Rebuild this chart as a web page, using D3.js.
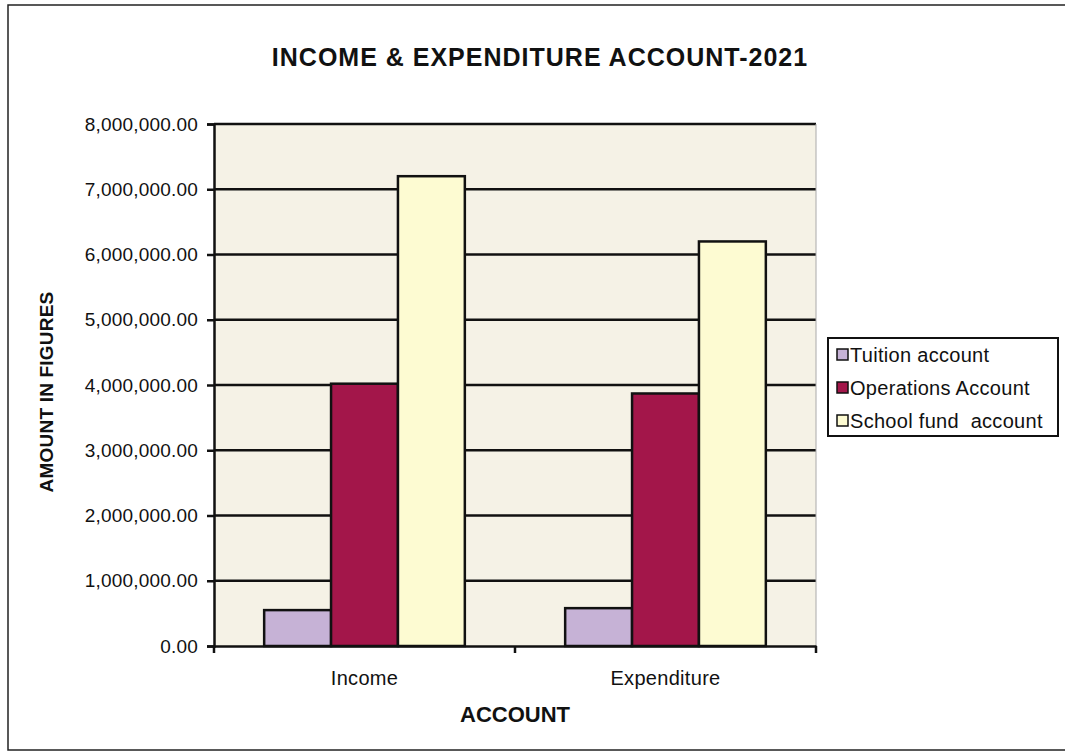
<!DOCTYPE html>
<html>
<head>
<meta charset="utf-8">
<title>Income & Expenditure</title>
<script src="https://cdn.jsdelivr.net/npm/d3@7"></script>
<style>
  body { margin: 0; background: #fff; }
  text { font-family: "Liberation Sans", Arial, sans-serif; fill: #111; }
</style>
</head>
<body>
<script>
var categories = ["Income", "Expenditure"];
var seriesNames = ["Tuition account", "Operations Account", "School fund  account"];
var tuition = [550000, 580000];
var operations = [4020000, 3870000];
var schoolFund = [7200000, 6200000];
var yTicks = [0, 1000000, 2000000, 3000000, 4000000, 5000000, 6000000, 7000000, 8000000];
var colors = ["#c6b2d6", "#a3164a", "#fdfbd2"];

var width = 1065, height = 755;
var plot = {left: 214, right: 816, top: 124, bottom: 646};

var svg = d3.select("body").append("svg")
  .attr("width", width).attr("height", height);

// outer frame
svg.append("rect").attr("x", 8).attr("y", 5).attr("width", 1070).attr("height", 745)
  .attr("fill", "#fff").attr("stroke", "#222").attr("stroke-width", 1.5);

var series = [tuition, operations, schoolFund];

var x0 = d3.scaleBand().domain(categories).range([plot.left, plot.right]);
var x1 = d3.scaleBand().domain(d3.range(seriesNames.length)).range([0, x0.bandwidth()]).paddingOuter(0.75);
var y = d3.scaleLinear().domain([0, 8000000]).range([plot.bottom, plot.top]);

// plot background
svg.append("rect").attr("x", plot.left).attr("y", plot.top)
  .attr("width", plot.right - plot.left).attr("height", plot.bottom - plot.top)
  .attr("fill", "#f5f2e6");

// grid
svg.append("g").selectAll("line").data(yTicks.slice(1)).join("line")
  .attr("x1", plot.left).attr("x2", plot.right)
  .attr("y1", function(d) { return y(d); }).attr("y2", function(d) { return y(d); })
  .attr("stroke", "#111").attr("stroke-width", 2.5);

svg.append("line").attr("x1", plot.right).attr("x2", plot.right)
  .attr("y1", plot.top).attr("y2", plot.bottom).attr("stroke", "#aaa").attr("stroke-width", 1);

// bars
var groups = svg.append("g").selectAll("g").data(categories).join("g")
  .attr("transform", function(d) { return "translate(" + x0(d) + ",0)"; });
groups.selectAll("rect").data(function(d, i) {
    return series.map(function(s, k) { return {k: k, v: s[i]}; });
  }).join("rect")
  .attr("x", function(d) { return x1(d.k); })
  .attr("width", x1.bandwidth())
  .attr("y", function(d) { return y(d.v); })
  .attr("height", function(d) { return plot.bottom - y(d.v); })
  .attr("fill", function(d) { return colors[d.k]; })
  .attr("stroke", "#111").attr("stroke-width", 2.5);

// axes
var fmt = d3.format(",.2f");
var yAxis = svg.append("g").attr("transform", "translate(" + plot.left + ",0)")
  .call(d3.axisLeft(y).tickValues(yTicks).tickFormat(fmt).tickSize(7).tickPadding(9));
yAxis.selectAll("text").style("font-size", "19px").attr("letter-spacing", "0.2");

var xAxis = svg.append("g").attr("transform", "translate(0," + plot.bottom + ")")
  .call(d3.axisBottom(x0).tickSize(0).tickPadding(25));
xAxis.selectAll("text").style("font-size", "20px").attr("letter-spacing", "0.3");
svg.append("g").selectAll("line").data([plot.left, x0(categories[1]), plot.right]).join("line")
  .attr("x1", function(d) { return d; }).attr("x2", function(d) { return d; })
  .attr("y1", plot.bottom).attr("y2", plot.bottom + 7).attr("stroke", "#111").attr("stroke-width", 2.5);
svg.selectAll(".domain").attr("stroke", "#111").attr("stroke-width", 2.5);
svg.selectAll(".tick line").attr("stroke", "#111").attr("stroke-width", 2.5);

// titles
svg.append("text").attr("x", 540).attr("y", 66).attr("text-anchor", "middle")
  .style("font-size", "25px").style("font-weight", "bold").attr("letter-spacing", "1")
  .text("INCOME & EXPENDITURE ACCOUNT-2021");
svg.append("text").attr("x", 515).attr("y", 722).attr("text-anchor", "middle")
  .style("font-size", "22px").style("font-weight", "bold")
  .text("ACCOUNT");
svg.append("text").attr("transform", "translate(53,392) rotate(-90)").attr("text-anchor", "middle")
  .style("font-size", "19px").style("font-weight", "bold").attr("letter-spacing", "0.2")
  .text("AMOUNT IN FIGURES");

// legend
var lg = svg.append("g").attr("transform", "translate(828,338)");
lg.append("rect").attr("width", 230).attr("height", 98).attr("fill", "#fff")
  .attr("stroke", "#111").attr("stroke-width", 2);
var items = lg.selectAll("g").data(seriesNames).join("g")
  .attr("transform", function(d, i) { return "translate(9," + (17 + i * 33) + ")"; });
items.append("rect").attr("x", 0).attr("y", -6).attr("width", 11).attr("height", 11)
  .attr("fill", function(d, i) { return colors[i]; }).attr("stroke", "#111").attr("stroke-width", 1.5);
items.append("text").attr("x", 13).attr("y", 7).style("font-size", "20px").attr("letter-spacing", "0.3")
  .style("white-space", "pre")
  .text(function(d) { return d; });
</script>
</body>
</html>
